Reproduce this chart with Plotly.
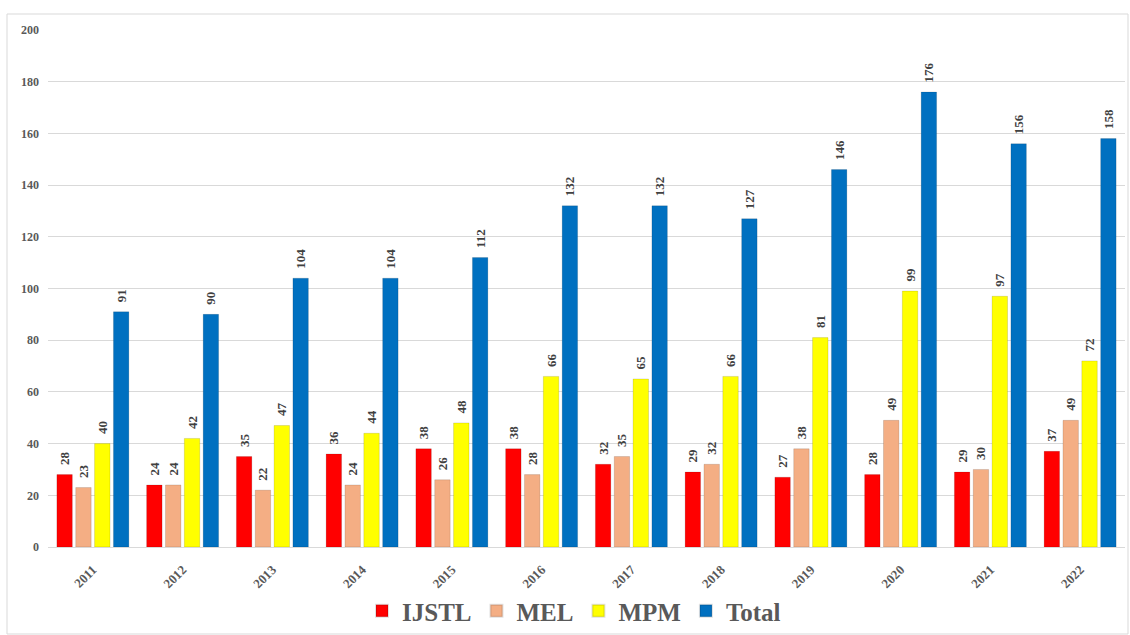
import plotly.graph_objects as go

years = ["2011", "2012", "2013", "2014", "2015", "2016", "2017", "2018", "2019", "2020", "2021", "2022"]
ijstl = [28, 24, 35, 36, 38, 38, 32, 29, 27, 28, 29, 37]
mel = [23, 24, 22, 24, 26, 28, 35, 32, 38, 49, 30, 49]
mpm = [40, 42, 47, 44, 48, 66, 65, 66, 81, 99, 97, 72]
total = [91, 90, 104, 104, 112, 132, 132, 127, 146, 176, 156, 158]

series = [
    ("IJSTL", ijstl, "#FF0000"),
    ("MEL", mel, "#F4AE84"),
    ("MPM", mpm, "#FFFF00"),
    ("Total", total, "#0070C0"),
]

FONT = "Liberation Serif"
PAD = "\u00a0\u00a0"

fig = go.Figure()
for name, vals, col in series:
    fig.add_trace(go.Bar(
        x=years, y=vals, name=name,
        marker=dict(color=col, line=dict(color="rgba(0,0,0,0.12)", width=1)),
        text=[PAD + str(v) for v in vals],
        textposition="outside",
        textangle=-90,
        constraintext="none",
        textfont=dict(family=FONT, size=13, color="#404040", weight="bold"),
        cliponaxis=False,
    ))

W, H = 1130, 635
ml, mr, mt, mb = 48, 5, 30, 88
pw = W - ml - mr
ph = H - mt - mb

def px_x(p):
    return (p - ml) / pw

def px_y(p):
    return (H - mb - p) / ph

fig.update_layout(
    width=W, height=H,
    margin=dict(l=ml, r=mr, t=mt, b=mb, autoexpand=False),
    paper_bgcolor="white", plot_bgcolor="white",
    barmode="group",
    bargap=0.16,
    bargroupgap=0.18,
    font=dict(family=FONT, color="#595959"),
    xaxis=dict(
        tickangle=-45,
        tickfont=dict(family=FONT, size=13, color="#595959", weight="bold"),
        showline=True, linecolor="#d9d9d9", linewidth=1,
        ticks="", showgrid=False, ticklabelstandoff=9, automargin=False,
    ),
    yaxis=dict(
        range=[0, 200], dtick=20,
        tickfont=dict(family=FONT, size=12, color="#595959", weight="bold"),
        showgrid=True, gridcolor="#d9d9d9", gridwidth=1,
        zeroline=False, ticks="", ticklabelstandoff=8, automargin=False,
    ),
    legend=dict(
        orientation="h", xanchor="center", x=px_x(574), yanchor="middle", y=px_y(611),
        font=dict(family=FONT, size=25, color="#595959", weight="bold"),
        bgcolor="rgba(0,0,0,0)",
        itemsizing="constant",
        itemwidth=30,
        tracegroupgap=0,
    ),
    showlegend=True,
)

fig.add_shape(type="rect", xref="paper", yref="paper",
              x0=px_x(7), x1=px_x(1128), y0=px_y(634), y1=px_y(14),
              line=dict(color="#d9d9d9", width=1), fillcolor="rgba(0,0,0,0)", layer="below")

fig.write_html("out.html")
